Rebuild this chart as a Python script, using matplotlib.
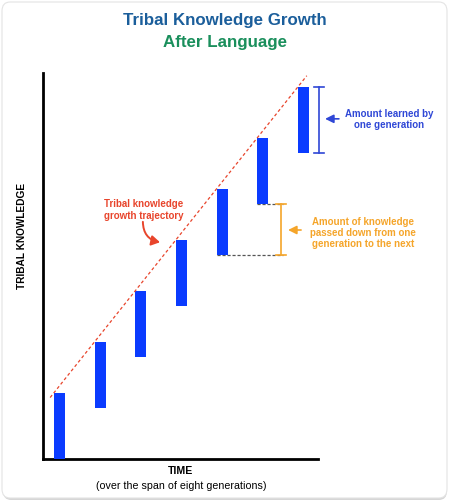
import numpy as np
import matplotlib
matplotlib.use("Agg")
import matplotlib.pyplot as plt
from matplotlib.patches import FancyBboxPatch

plt.rcParams['font.family'] = ['Liberation Sans', 'DejaVu Sans']

# ---- data ----
generations = [1, 2, 3, 4, 5, 6, 7]
bar_bottoms = [0.0, 1.0, 2.0, 3.0, 4.0, 5.0, 6.0]
bar_tops = [1.3, 2.3, 3.3, 4.3, 5.3, 6.3, 7.3]
traj_x_range = [0.77, 7.08]

title_line1 = "Tribal Knowledge Growth"
title_line2 = "After Language"
ylabel = "TRIBAL KNOWLEDGE"
xlabel = "TIME"
xsub = "(over the span of eight generations)"
note_traj = "Tribal knowledge\ngrowth trajectory"
note_learned = "Amount learned by\none generation"
note_passed = "Amount of knowledge\npassed down from one\ngeneration to the next"

BLUE_BAR = '#0a3bff'
RED = '#e8452c'
ORANGE = '#f5a52a'
NOTE_BLUE = '#2f47d6'

W, H = 450, 502
fig = plt.figure(figsize=(W / 100, H / 100), dpi=100)
fig.patch.set_facecolor('white')

# frame with shadow
shadow = FancyBboxPatch((3 / W, 1 / H), 444 / W, 496 / H,
                        boxstyle="round,pad=0,rounding_size=0.018",
                        transform=fig.transFigure, facecolor='#d6d6d6',
                        edgecolor='none', zorder=-3)
frame = FancyBboxPatch((2 / W, 3 / H), 445 / W, 496 / H,
                       boxstyle="round,pad=0,rounding_size=0.018",
                       transform=fig.transFigure, facecolor='white',
                       edgecolor='#e4e4e4', linewidth=0.8, zorder=-2)
fig.patches.extend([shadow, frame])

ax_l, ax_r, ax_t, ax_b = 43, 440, 74, 460
ax = fig.add_axes([ax_l / W, (H - ax_b) / H, (ax_r - ax_l) / W, (ax_b - ax_t) / H])
ax.set_facecolor('none')
ax.set_zorder(1)

px_per_x = 40.67
px_per_y = 51.0
x_left = 1 - (59.5 - ax_l) / px_per_x
x_right = 1 + (ax_r - 59.5) / px_per_x
ax.set_xlim(x_left, x_right)
ax.set_ylim(0, (ax_b - ax_t) / px_per_y)

bw = 0.27
bottoms = np.array(bar_bottoms)
tops = np.array(bar_tops)
gens = np.array(generations, dtype=float)
ax.bar(gens, tops - bottoms, bottom=bottoms, width=bw, color=BLUE_BAR,
       edgecolor='none', zorder=3)

# trajectory line through top-left corners
cx = gens - bw / 2
slope, icpt = np.polyfit(cx, tops, 1)
tx = np.array(traj_x_range)
ax.plot(tx, slope * tx + icpt, color=RED, lw=0.9, ls=(0, (2.5, 2)), zorder=4)

# spines
for s in ['top', 'right']:
    ax.spines[s].set_visible(False)
ax.spines['left'].set_linewidth(2)
ax.spines['bottom'].set_linewidth(2)
x_axis_end = 1 + (318 - 59.5) / px_per_x
ax.spines['bottom'].set_bounds(x_left, x_axis_end)
ax.set_xticks([])
ax.set_yticks([])

# dashed reference lines (gens 5 and 6 bottoms)
bracket_x = 6.45
for i in [4, 5]:
    ax.plot([gens[i] - bw / 2, 6.5], [bottoms[i], bottoms[i]], color='#555555',
            lw=0.9, ls=(0, (2.5, 1.5)), zorder=2)

arrow_kw = dict(arrowstyle='-|>,head_length=0.5,head_width=0.25', lw=1.2,
                shrinkA=0, shrinkB=0)

# orange bracket: passed down
cap = 0.12
ax.plot([bracket_x, bracket_x], [bottoms[4], bottoms[5]], color=ORANGE, lw=1.2)
for yv in [bottoms[4], bottoms[5]]:
    ax.plot([bracket_x - cap, bracket_x + cap], [yv, yv], color=ORANGE, lw=1.2)
ax.annotate('', xy=(6.62, 4.49), xytext=(6.94, 4.49),
            arrowprops=dict(color=ORANGE, **arrow_kw))
ax.text(8.46, 4.45, note_passed, color=ORANGE, fontsize=7, fontweight='bold',
        ha='center', va='center', linespacing=1.15)

# blue bracket: learned
bx = 7.38
ax.plot([bx, bx], [bottoms[6], tops[6]], color=NOTE_BLUE, lw=1.2)
for yv in [bottoms[6], tops[6]]:
    ax.plot([bx - cap, bx + cap], [yv, yv], color=NOTE_BLUE, lw=1.2)
ax.annotate('', xy=(7.53, 6.67), xytext=(7.87, 6.67),
            arrowprops=dict(color=NOTE_BLUE, **arrow_kw))
ax.text(9.1, 6.67, note_learned, color=NOTE_BLUE, fontsize=7, fontweight='bold',
        ha='center', va='center', linespacing=1.15)

# trajectory note
ax.text(3.08, 4.9, note_traj, color=RED, fontsize=7, fontweight='bold',
        ha='center', va='center', linespacing=1.15)
ax.annotate('', xy=(3.47, 4.25), xytext=(3.05, 4.65),
            arrowprops=dict(arrowstyle='-|>,head_length=0.5,head_width=0.3',
                            color=RED, lw=1.4, shrinkA=0, shrinkB=0,
                            connectionstyle='arc3,rad=0.4'))

# titles and labels
fig.text(0.5, 1 - 21 / H, title_line1, color='#1b5e9b', fontsize=12.2,
         fontweight='bold', ha='center', va='center')
fig.text(0.5, 1 - 42 / H, title_line2, color='#1a8f5c', fontsize=12.2,
         fontweight='bold', ha='center', va='center')
fig.text(22 / W, 1 - 236 / H, ylabel, rotation=90, fontsize=7.3,
         fontweight='bold', ha='center', va='center')
fig.text(181 / W, 1 - 471 / H, xlabel, fontsize=7.6, fontweight='bold',
         ha='center', va='center')
fig.text(181 / W, 1 - 486 / H, xsub, fontsize=7.7, ha='center', va='center')

fig.savefig('out.png', dpi=100, facecolor='white')
